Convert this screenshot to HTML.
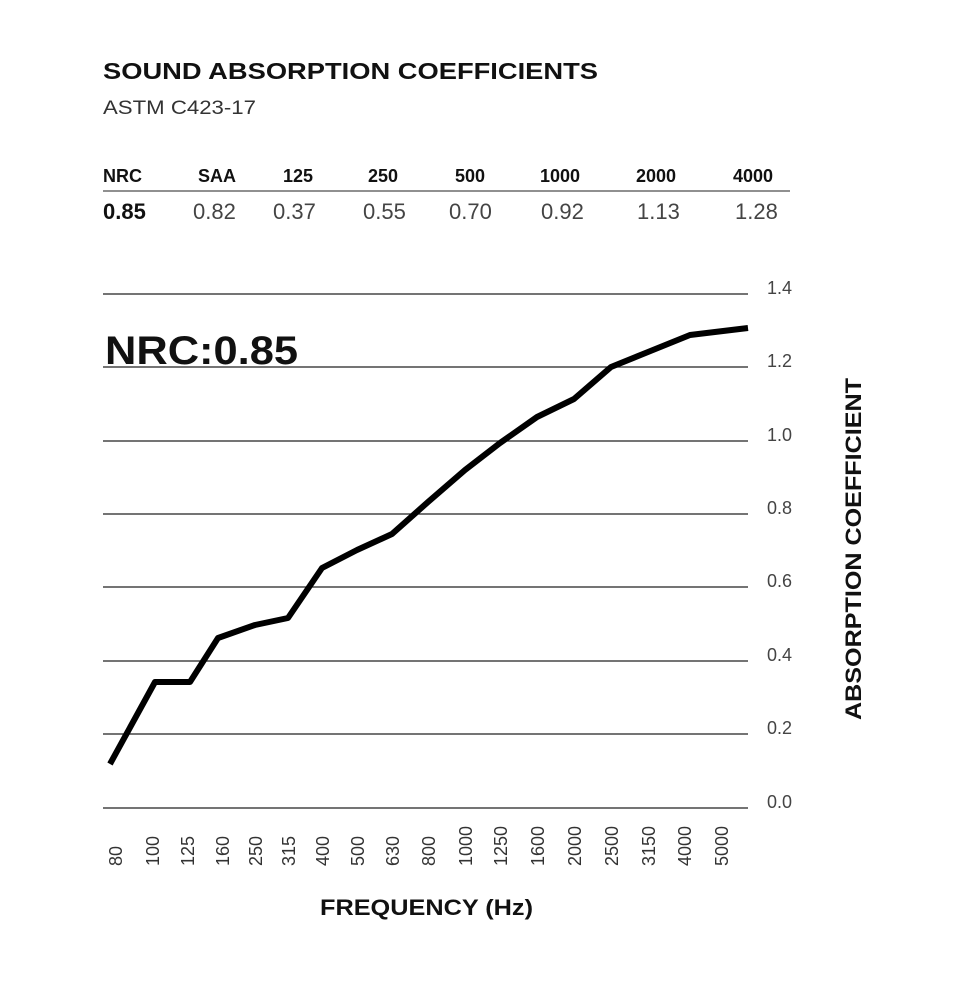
<!DOCTYPE html>
<html><head><meta charset="utf-8"><style>
html,body{margin:0;padding:0;background:#fff;}
svg text{font-family:"Liberation Sans",sans-serif;}
</style></head><body>
<svg width="980" height="980" viewBox="0 0 980 980" xmlns="http://www.w3.org/2000/svg">
<text x="103" y="79" font-size="23" font-weight="bold" fill="#111" textLength="495" lengthAdjust="spacingAndGlyphs">SOUND ABSORPTION COEFFICIENTS</text>
<text x="103" y="114" font-size="19" fill="#333" textLength="153" lengthAdjust="spacingAndGlyphs">ASTM C423-17</text>
<g font-size="18" font-weight="bold" fill="#111">
<text x="103" y="182">NRC</text>
<text x="198" y="182">SAA</text>
<text x="283" y="182">125</text>
<text x="368" y="182">250</text>
<text x="455" y="182">500</text>
<text x="540" y="182">1000</text>
<text x="636" y="182">2000</text>
<text x="733" y="182">4000</text>
</g>
<line x1="103" y1="191" x2="790" y2="191" stroke="#222" stroke-width="1"/>
<text x="103" y="219" font-size="22" font-weight="bold" fill="#111">0.85</text>
<g font-size="22" fill="#444">
<text x="193" y="219">0.82</text>
<text x="273" y="219">0.37</text>
<text x="363" y="219">0.55</text>
<text x="449" y="219">0.70</text>
<text x="541" y="219">0.92</text>
<text x="637" y="219">1.13</text>
<text x="735" y="219">1.28</text>
</g>
<g stroke="#222" stroke-width="1.2">
<line x1="103" y1="294" x2="748" y2="294"/>
<line x1="103" y1="367" x2="748" y2="367"/>
<line x1="103" y1="441" x2="748" y2="441"/>
<line x1="103" y1="514" x2="748" y2="514"/>
<line x1="103" y1="587" x2="748" y2="587"/>
<line x1="103" y1="661" x2="748" y2="661"/>
<line x1="103" y1="734" x2="748" y2="734"/>
<line x1="103" y1="808" x2="748" y2="808"/>
</g>
<g font-size="18" fill="#444">
<text x="767" y="294">1.4</text>
<text x="767" y="367">1.2</text>
<text x="767" y="441">1.0</text>
<text x="767" y="514">0.8</text>
<text x="767" y="587">0.6</text>
<text x="767" y="661">0.4</text>
<text x="767" y="734">0.2</text>
<text x="767" y="808">0.0</text>
</g>
<text x="105" y="364" font-size="40" font-weight="bold" fill="#111" textLength="193" lengthAdjust="spacingAndGlyphs">NRC:0.85</text>
<text transform="translate(861,549) rotate(-90)" text-anchor="middle" font-size="22" font-weight="bold" fill="#111" textLength="342" lengthAdjust="spacingAndGlyphs">ABSORPTION COEFFICIENT</text>
<polyline fill="none" stroke="#000" stroke-width="6" stroke-linejoin="round" points="110,764 155,682 190,682 218,638 255,625 288,618 322,568 357,550 392,534 428,502 465,470 500,443 537,417 574,399 611,367 648,352 690,335 748,328"/>
<g font-size="18" fill="#333">
<text transform="translate(122,866) rotate(-90)">80</text>
<text transform="translate(159,866) rotate(-90)">100</text>
<text transform="translate(194,866) rotate(-90)">125</text>
<text transform="translate(229,866) rotate(-90)">160</text>
<text transform="translate(262,866) rotate(-90)">250</text>
<text transform="translate(295,866) rotate(-90)">315</text>
<text transform="translate(329,866) rotate(-90)">400</text>
<text transform="translate(364,866) rotate(-90)">500</text>
<text transform="translate(399,866) rotate(-90)">630</text>
<text transform="translate(435,866) rotate(-90)">800</text>
<text transform="translate(472,866) rotate(-90)">1000</text>
<text transform="translate(507,866) rotate(-90)">1250</text>
<text transform="translate(544,866) rotate(-90)">1600</text>
<text transform="translate(581,866) rotate(-90)">2000</text>
<text transform="translate(618,866) rotate(-90)">2500</text>
<text transform="translate(655,866) rotate(-90)">3150</text>
<text transform="translate(691,866) rotate(-90)">4000</text>
<text transform="translate(728,866) rotate(-90)">5000</text>
</g>
<text x="320" y="915" font-size="22" font-weight="bold" fill="#111" textLength="213" lengthAdjust="spacingAndGlyphs">FREQUENCY (Hz)</text>
</svg>
</body></html>
